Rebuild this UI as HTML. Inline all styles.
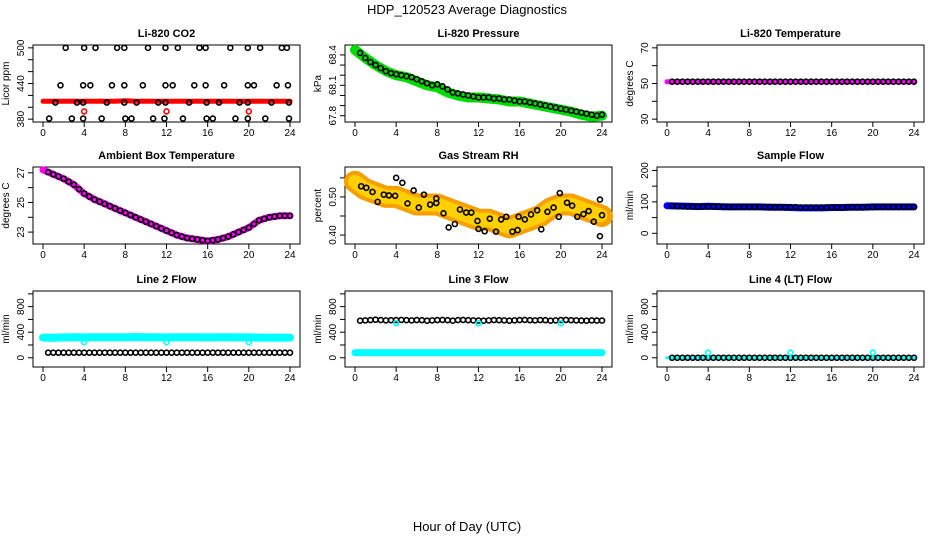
<!DOCTYPE html>
<html><head><meta charset="utf-8"><style>
html,body{margin:0;padding:0;background:#fff;}
svg{display:block;font-family:"Liberation Sans",sans-serif;}
</style></head><body>
<svg id="fig" width="936" height="540" viewBox="0 0 936 540" xmlns="http://www.w3.org/2000/svg">
<text x="467" y="14" text-anchor="middle" font-size="13">HDP_120523  Average Diagnostics</text>
<text x="467" y="531" text-anchor="middle" font-size="13">Hour of Day (UTC)</text>
</svg>
<script>
const xTicks = [0,4,8,12,16,20,24];
const hours = [0,1,2,3,4,5,6,7,8,9,10,11,12,13,14,15,16,17,18,19,20,21,22,23,24];
const halfHours = [0.5,1,1.5,2,2.5,3,3.5,4,4.5,5,5.5,6,6.5,7,7.5,8,8.5,9,9.5,10,10.5,11,11.5,12,12.5,13,13.5,14,14.5,15,15.5,16,16.5,17,17.5,18,18.5,19,19.5,20,20.5,21,21.5,22,22.5,23,23.5,24];
// CO2
const co2Band = [410,410,410,410,410,410,410,410,411,410,410,410,410,410,410,410,410,410,410,410,410,410,410,410,410];
const co2HiT = [2.2,4.0,5.1,7.2,7.9,10.2,11.9,13.1,15.2,15.8,18.2,19.9,21.1,23.2,23.7];
const co2HiV = [500,500,500,500,500,500,500,500,500,500,500,500,500,500,500];
const co2MidT = [1.7,3.9,4.6,6.7,7.9,9.7,11.9,12.6,14.7,15.8,17.6,19.9,20.5,22.7,23.8];
const co2MidV = [437,437,437,437,437,437,437,437,437,437,437,437,437,437,437];
const co2LowT = [1.2,3.3,3.9,6.2,7.9,9.1,11.2,11.9,14.2,15.9,17.1,19.1,19.9,22.2,23.9];
const co2LowV = [408,408,408,408,408,408,408,408,408,408,408,408,408,408,408];
const co2BotT = [0.6,2.8,3.9,5.7,8.0,8.6,10.7,11.8,13.6,15.9,16.5,18.7,19.9,21.6,23.9];
const co2BotV = [381,381,381,381,381,381,381,381,381,381,381,381,381,381,381];
const co2RedT = [4,12,20];
const co2RedV = [393,393,393];
// Pressure
const presBand = [68.45,68.37,68.3,68.24,68.2,68.18,68.14,68.1,68.08,68.03,68.0,67.98,67.98,67.97,67.96,67.94,67.94,67.92,67.9,67.88,67.86,67.84,67.81,67.79,67.8];
const presPts = [68.42,68.37,68.33,68.3,68.27,68.24,68.22,68.21,68.2,68.19,68.18,68.16,68.14,68.12,68.1,68.11,68.09,68.06,68.03,68.02,68.01,68.0,67.99,67.98,67.98,67.98,67.97,67.97,67.96,67.96,67.95,67.94,67.94,67.93,67.92,67.91,67.9,67.89,67.88,67.87,67.86,67.85,67.84,67.83,67.82,67.81,67.8,67.81];
// Li-820 temperature
const tempBand = [51,51,51,51,51,51,51,51,51,51,51,51,51,51,51,51,51,51,51,51,51,51,51,51,51];
const tempPts = [51,51,51,51,51,51,51,51,51,51,51,51,51,51,51,51,51,51,51,51,51,51,51,51,51,51,51,51,51,51,51,51,51,51,51,51,51,51,51,51,51,51,51,51,51,51,51,51];
// Ambient
const ambBand = [27.2,26.9,26.6,26.2,25.6,25.2,24.9,24.6,24.3,24.0,23.7,23.4,23.1,22.8,22.6,22.5,22.4,22.5,22.7,23.0,23.3,23.8,24.0,24.1,24.1];
const ambPts = [27.05,26.9,26.75,26.6,26.4,26.2,25.9,25.6,25.4,25.2,25.05,24.9,24.75,24.6,24.45,24.3,24.15,24.0,23.85,23.7,23.55,23.4,23.25,23.1,22.95,22.8,22.7,22.6,22.55,22.5,22.45,22.4,22.45,22.5,22.6,22.7,22.85,23.0,23.15,23.3,23.55,23.8,23.9,24.0,24.05,24.1,24.1,24.1];
// RH
const rhBand = [0.54,0.52,0.51,0.50,0.50,0.49,0.48,0.48,0.48,0.47,0.46,0.45,0.44,0.44,0.43,0.42,0.43,0.44,0.45,0.47,0.48,0.48,0.47,0.46,0.45];
const rhT = [0.6,1.1,1.7,2.2,2.8,3.3,3.9,4.0,4.6,5.1,5.7,6.2,6.7,7.3,7.9,7.9,8.6,9.1,9.7,10.2,10.8,11.3,11.9,12.0,12.6,13.1,13.7,14.2,14.7,15.3,15.8,15.9,16.5,17.1,17.7,18.1,18.7,19.3,19.8,19.9,20.6,21.1,21.6,22.2,22.7,23.2,23.8,23.8,24];
const rhV = [0.528,0.524,0.513,0.487,0.506,0.504,0.503,0.55,0.537,0.483,0.517,0.472,0.506,0.48,0.484,0.496,0.457,0.42,0.429,0.467,0.459,0.459,0.437,0.416,0.41,0.443,0.409,0.441,0.448,0.409,0.413,0.448,0.441,0.454,0.465,0.415,0.461,0.472,0.448,0.51,0.485,0.477,0.448,0.455,0.463,0.435,0.493,0.397,0.452];
// Sample flow
const sfBand = [88,87,86,85,86,85,84,84,84,84,83,83,82,81,81,81,82,82,83,83,84,84,84,84,84];
const sfPts = [87,86,86,85,85,85,85,85,85,85,84,84,84,84,84,84,84,84,84,84,83,83,83,83,83,82,82,82,82,82,82,82,82,82,83,83,83,83,83,83,84,84,84,84,84,84,84,84];
// Line flows
const l2Band = [315,312,318,320,318,320,322,322,320,325,322,320,318,322,320,320,318,320,320,318,318,316,316,315,315];
const l2Pts = [80,80,80,80,80,80,80,80,80,80,80,80,80,80,80,80,80,80,80,80,80,80,80,80,80,80,80,80,80,80,80,80,80,80,80,80,80,80,80,80,80,80,80,80,80,80,80,80];
const l2DipT = [4,12,20];
const l2DipV = [245,245,245];
const l3Band = [80,80,80,80,80,80,80,80,80,80,80,80,80,80,80,80,80,80,80,80,80,80,80,80,80];
const l3Pts = [580,585,590,595,590,585,588,590,592,588,585,590,588,580,585,590,592,588,580,590,592,588,585,582,580,585,590,588,585,580,585,590,592,588,585,590,588,580,585,590,592,588,585,582,580,585,582,582];
const l3DipT = [4,12,20];
const l3DipV = [540,540,540];
const l4Band = [0,0,0,0,0,0,0,0,0,0,0,0,0,0,0,0,0,0,0,0,0,0,0,0,0];
const l4Pts = [0,0,0,0,0,0,0,0,0,0,0,0,0,0,0,0,0,0,0,0,0,0,0,0,0,0,0,0,0,0,0,0,0,0,0,0,0,0,0,0,0,0,0,0,0,0,0,0];
const l4DipT = [4,12,20];
const l4DipV = [80,80,80];

const NS = 'http://www.w3.org/2000/svg';
const fig = document.getElementById('fig');
const rowTop = [45,167,291], rowBot = [122,244,367];
function mk(tag, attrs, parent){ const e=document.createElementNS(NS,tag); for(const k in attrs) e.setAttribute(k,attrs[k]); (parent||fig).appendChild(e); return e; }

function panel(col,row,key,title,ylab,ylim,ticks,labels){
  const L=33+312*col, R=300+312*col, T=rowTop[row], B=rowBot[row];
  const g=mk('g',{});
  
  
  const xs=h=>L+10+h*(R-L-20)/24;
  const ys=v=>(B-2.85)-(v-ylim[0])/(ylim[1]-ylim[0])*(B-T-5.7);
  const t=mk('text',{x:(L+R)/2,y:T-8,'text-anchor':'middle','font-size':11,'font-weight':'bold'},g); t.textContent=title;
  
  
  const box=mk('rect',{x:L,y:T,width:R-L,height:B-T,fill:'none',stroke:'#000','stroke-width':1},g);
  
  
  xTicks.forEach(h=>{
    mk('line',{x1:xs(h),x2:xs(h),y1:B,y2:B+5,stroke:'#000'},g);
    const tl=mk('text',{x:xs(h),y:B+14,'text-anchor':'middle','font-size':10},g); tl.textContent=h;
    
    
  });
  ticks.forEach(v=>{ mk('line',{x1:L-5,x2:L,y1:ys(v),y2:ys(v),stroke:'#000'},g); });
  labels.forEach(v=>{
    const x=L-9, y=ys(v);
    const tl=mk('text',{x:x,y:y,'text-anchor':'middle','font-size':10,transform:`rotate(-90 ${x} ${y})`},g); tl.textContent=v;
    
    
  });
  const yl=L-24, ym=(T+B)/2;
  const yt=mk('text',{x:yl,y:ym,'text-anchor':'middle','font-size':10,transform:`rotate(-90 ${yl} ${ym})`},g); yt.textContent=ylab;
  
  
  return {g,xs,ys};
}
function band(p,key,tArr,vArr,color,w,dash){
  const d=tArr.map((t,i)=>(i?'L':'M')+p.xs(t).toFixed(1)+','+p.ys(vArr[i]).toFixed(1)).join('');
  const e=mk('path',{d:d,fill:'none',stroke:color,'stroke-width':w,'stroke-linejoin':'round','stroke-linecap':'round'},p.g);
  if(dash) e.setAttribute('stroke-dasharray',dash);
  
  
}
function pts(p,key,tArr,vArr,color){
  tArr.forEach((t,i)=>{
    const c=mk('circle',{cx:p.xs(t),cy:p.ys(vArr[i]),r:2.5,fill:'none',stroke:color,'stroke-width':1.6},p.g);
    
    
  });
}

let p;
p=panel(0,0,'co2','Li-820 CO2','Licor ppm',[380,500],[380,400,420,440,460,480,500],[380,440,500]);
band(p,'co2',hours,co2Band,'#ff0000',5);
pts(p,'co2-high',co2HiT,co2HiV,'#000'); pts(p,'co2-mid',co2MidT,co2MidV,'#000');
pts(p,'co2-low',co2LowT,co2LowV,'#000'); pts(p,'co2-bottom',co2BotT,co2BotV,'#000');
pts(p,'co2-red',co2RedT,co2RedV,'#ff0000');

p=panel(1,0,'pressure','Li-820 Pressure','kPa',[67.766,68.47],[67.8,67.9,68.0,68.1,68.2,68.3,68.4],['67.8','68.1','68.4']);
band(p,'pressure',hours,presBand,'#00dd00',10);
pts(p,'pressure',halfHours,presPts,'#000');

p=panel(2,0,'li820-temp','Li-820 Temperature','degrees C',[30,70],[30,40,50,60,70],[30,50,70]);
band(p,'li820-temp',hours,tempBand,'#ff00ff',5);
pts(p,'li820-temp',halfHours,tempPts,'#000');

p=panel(0,1,'ambient','Ambient Box Temperature','degrees C',[22.39,27.2],[23,24,25,26,27],[23,25,27]);
band(p,'ambient',hours,ambBand,'#ff00ff',7);
pts(p,'ambient',halfHours,ambPts,'#000');

p=panel(1,1,'rh','Gas Stream RH','percent',[0.384,0.571],[0.40,0.45,0.50,0.55],['0.40','0.50']);
band(p,'rh',hours,rhBand,'#f5a000',22);
band(p,'rh-speckle',hours,rhBand,'#ffd000',14,'2 3');
pts(p,'rh',rhT,rhV,'#000');

p=panel(2,1,'sample-flow','Sample Flow','ml/min',[-25,202],[0,50,100,150,200],[0,100,200]);
band(p,'sample-flow',hours,sfBand,'#0000ff',7);
pts(p,'sample-flow',halfHours,sfPts,'#000');

p=panel(0,2,'line2','Line 2 Flow','ml/min',[-100,1000],[0,200,400,600,800,1000],[0,400,800]);
band(p,'line2',hours,l2Band,'#00ffff',8);
pts(p,'line2',halfHours,l2Pts,'#000');
pts(p,'line2-dip',l2DipT,l2DipV,'#00ffff');

p=panel(1,2,'line3','Line 3 Flow','ml/min',[-100,1000],[0,200,400,600,800,1000],[0,400,800]);
band(p,'line3',hours,l3Band,'#00ffff',7);
pts(p,'line3',halfHours,l3Pts,'#000');
pts(p,'line3-dip',l3DipT,l3DipV,'#00ffff');

p=panel(2,2,'line4','Line 4 (LT) Flow','ml/min',[-100,1000],[0,200,400,600,800,1000],[0,400,800]);
band(p,'line4',hours,l4Band,'#00ffff',3);
pts(p,'line4',halfHours,l4Pts,'#000');
pts(p,'line4-dip',l4DipT,l4DipV,'#00ffff');
</script>
</body></html>
